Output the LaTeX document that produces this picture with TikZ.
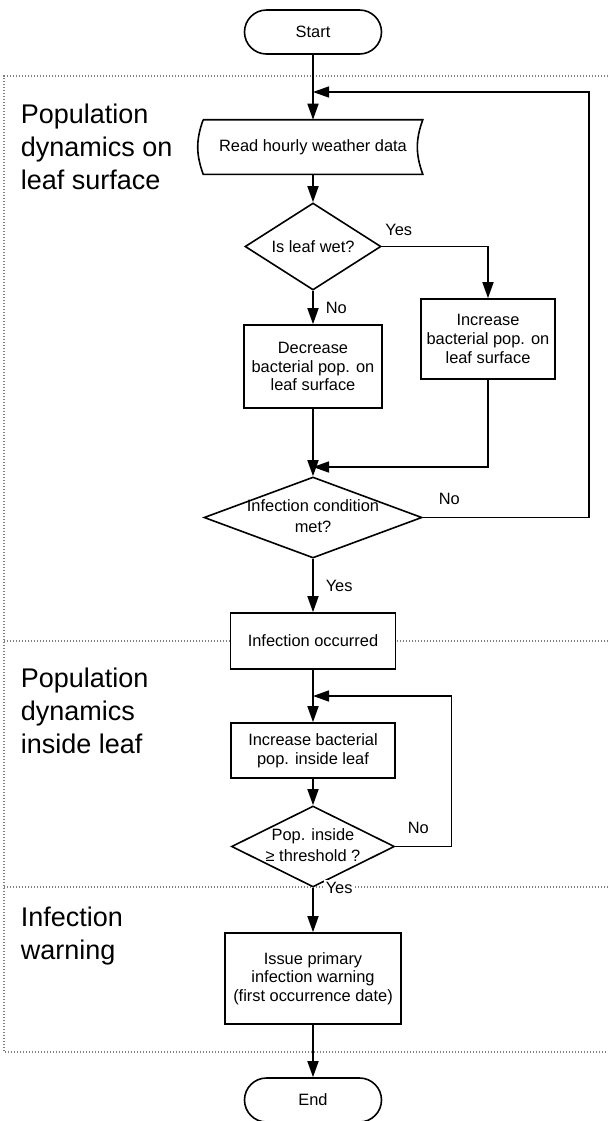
\documentclass[tikz,border=0pt]{standalone}
\usepackage{fontspec}
\setmainfont{Liberation Sans}
\usepackage{tikz}
\usetikzlibrary{positioning}
\usetikzlibrary{shapes.geometric,arrows.meta}
\pgfkeys{tikz/proc/.style={draw, fill=white, rectangle, align=center, inner sep=0pt, font=\fontsize{8.2}{9.3}\selectfont}}
\pgfkeys{tikz/term/.style={draw, fill=white, rounded corners=11pt, minimum width=68.5pt, minimum height=22pt, font=\fontsize{8.2}{9.3}\selectfont}}
\pgfkeys{tikz/dec/.style={draw, fill=white, diamond, inner sep=0pt, font=\fontsize{8.2}{9.3}\selectfont}}
\pgfkeys{tikz/arr/.style={-{Triangle[length=8pt,width=5.5pt]}}}
\pgfkeys{tikz/divline/.style={gray, line width=0.6pt, dash pattern=on 0.6pt off 0.9pt}}
\pgfkeys{tikz/lbl/.style={inner sep=1pt, font=\fontsize{8.2}{9.3}\selectfont}}
\pgfkeys{tikz/phaselabel/.style={anchor=north west, align=left, inner sep=0pt, font=\fontsize{13.5}{16.5}\selectfont}}
\renewcommand{\arraystretch}{1.15}

\begin{document}
\begin{tikzpicture}[x=0.5pt, y=-0.5pt, line width=0.8pt]

	\useasboundingbox (0,0) rectangle (608,1121);

	\draw[divline] (608,76) -- (4,76) -- (4,1052) -- (608,1052);
	\draw[divline] (4,641) -- (608,641);
	\draw[divline] (4,887) -- (608,887);

	\node[phaselabel] (ph1) at (20,103) {Population\\dynamics on\\leaf surface};
	\node[phaselabel] (ph2) at (20,667) {Population\\dynamics\\inside leaf};
	\node[phaselabel] (ph3) at (20,906) {Infection\\warning};

	\node[term] (st) at (313,32) {Start};
	\coordinate (j1) at (313,92);

	\node[minimum width=109pt, minimum height=26.5pt, inner sep=0pt, font=\fontsize{8.2}{9.3}\selectfont] (rd) at (313,147) {Read hourly weather data};
	\draw (rd.north west) -- (rd.north east) to[bend right=20] (rd.south east) -- (rd.south west) to[bend left=20] (rd.north west);

	\node[dec, minimum width=68pt, minimum height=43.5pt] (wet) at (313,246.5) {\makebox[0pt]{Is leaf wet?}};
	\node[proc, minimum width=69pt, minimum height=41.5pt] (dec) at (313,366.5) {Decrease\\bacterial pop. on\\leaf surface};
	\node[proc, minimum width=67pt, minimum height=40pt] (inc) at (488,339) {Increase\\bacterial pop. on\\leaf surface};
	\coordinate (j2) at (313,467);

	\node[dec, minimum width=109pt, minimum height=40.5pt] (cond) at (313,517.5) {\makebox[0pt]{\begin{tabular}{c}Infection condition\\met?\end{tabular}}};

	\node[proc, minimum width=82.5pt, minimum height=28pt] (occ) at (313,641) {Infection occurred};
	\coordinate (j3) at (313,696);
	\node[proc, minimum width=82pt, minimum height=27.5pt] (grow) at (313,750.5) {Increase bacterial\\pop. inside leaf};
	\node[dec, minimum width=81.5pt, minimum height=40.5pt] (thr) at (313,846.5) {\makebox[0pt]{\begin{tabular}{c}Pop. inside\\≥ threshold ?\end{tabular}}};

	\node[proc, minimum width=88pt, minimum height=45.5pt] (warn) at (313,978.5) {Issue primary\\infection warning\\(first occurrence date)};
	\node[term] (en) at (313,1100) {End};

	\draw[arr] (st) -- (rd);
	\draw[arr] (rd) -- (wet);
	\draw[arr] (wet) -- node[lbl, right=5pt] {No} (dec);
	\draw[arr] (wet.east) -| node[lbl, above=4pt, pos=0.08] {Yes} (inc.north);
	\draw[arr] (inc.south) |- (j2);
	\draw[arr] (dec) -- (cond);
	\draw[arr] (cond.east) -- node[lbl, above=5pt, pos=0.16] {No} ++(166,0) |- (j1);
	\draw[arr] (cond) -- node[lbl, right=5pt] {Yes} (occ);

	\draw[arr] (occ) -- (grow);
	\draw[arr] (grow) -- (thr);
	\draw[arr] (thr.east) -- node[lbl, above=5pt, pos=0.41] {No} ++(56,0) |- (j3);
	\draw[arr] (thr) -- node[lbl, fill=white, anchor=west, pos=0, xshift=5pt] {Yes} (warn);
	\draw[arr] (warn) -- (en);

\end{tikzpicture}
\end{document}
